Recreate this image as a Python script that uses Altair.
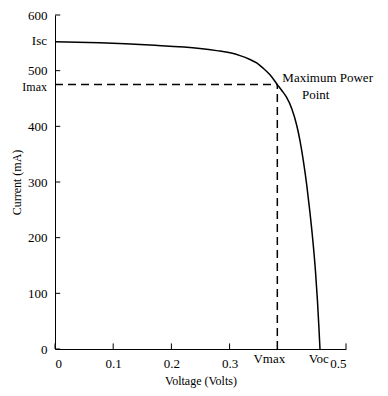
import altair as alt
import pandas as pd

# I-V curve
voltage = [0, 0.077, 0.163, 0.249, 0.278, 0.301, 0.318, 0.335, 0.3465, 0.357, 0.369, 0.382,
           0.390, 0.398, 0.4067, 0.4153, 0.421, 0.4266, 0.4325, 0.438, 0.4433, 0.4476,
           0.451, 0.4533, 0.4553]
current = [552, 550, 546, 540, 536, 532, 527, 520, 514, 505, 493, 475,
           464, 452, 432, 402, 374, 339, 295, 246, 192, 139,
           86, 42, 0]

isc = 552
imax = 475
vmax = 0.382
voc = 0.455

x_ticks = [0, 0.1, 0.2, 0.3, 0.5]
y_ticks = [0, 100, 200, 300, 400, 500, 600]

FONT = "Liberation Serif"

curve_df = pd.DataFrame({"V": voltage, "I": current})

xs = alt.Scale(domain=[0, 0.5], nice=False)
ys = alt.Scale(domain=[0, 600], nice=False)

base_x = alt.X("V:Q", scale=xs,
               axis=alt.Axis(values=x_ticks, format=".1~f", title="Voltage (Volts)",
                             grid=False, ticks=False, labelPadding=8, titlePadding=5,
                             domainColor="black", labelColor="black", titleColor="black",
                             labelFont=FONT, titleFont=FONT, labelFontSize=13, titleFontSize=12,
                             titleFontWeight="normal"))
base_y = alt.Y("I:Q", scale=ys,
               axis=alt.Axis(values=y_ticks, title="Current (mA)",
                             grid=False, ticks=False, labelPadding=8, titlePadding=4,
                             domainColor="black", labelColor="black", titleColor="black",
                             labelFont=FONT, titleFont=FONT, labelFontSize=13, titleFontSize=12,
                             titleFontWeight="normal"))

curve = alt.Chart(curve_df).mark_line(color="black", strokeWidth=1.5, interpolate="monotone").encode(
    x=base_x, y=base_y)

# inward ticks
yt_df = pd.DataFrame({"I": y_ticks, "V": [0] * len(y_ticks), "V2": [0.009] * len(y_ticks)})
ytick = alt.Chart(yt_df).mark_rule(color="black", strokeWidth=1).encode(
    x=alt.X("V:Q", scale=xs), x2="V2:Q", y=alt.Y("I:Q", scale=ys))
xt_df = pd.DataFrame({"V": x_ticks, "I": [0] * len(x_ticks), "I2": [10] * len(x_ticks)})
xtick = alt.Chart(xt_df).mark_rule(color="black", strokeWidth=1).encode(
    x=alt.X("V:Q", scale=xs), y=alt.Y("I:Q", scale=ys), y2="I2:Q")

# dashed lines to max power point
h_df = pd.DataFrame({"V": [0], "V2": [vmax], "I": [imax]})
hdash = alt.Chart(h_df).mark_rule(color="black", strokeWidth=1.5, strokeDash=[8, 5]).encode(
    x=alt.X("V:Q", scale=xs), x2="V2:Q", y=alt.Y("I:Q", scale=ys))
v_df = pd.DataFrame({"V": [vmax], "I": [0], "I2": [imax]})
vdash = alt.Chart(v_df).mark_rule(color="black", strokeWidth=1.5, strokeDash=[8, 5]).encode(
    x=alt.X("V:Q", scale=xs), y=alt.Y("I:Q", scale=ys), y2="I2:Q")

# y-side labels
ylab1 = alt.Chart(pd.DataFrame({"V": [0], "I": [isc], "t": ["Isc"]})).mark_text(
    align="right", baseline="middle", dx=-8, dy=-1, font=FONT, fontSize=13, color="black").encode(
    x=alt.X("V:Q", scale=xs), y=alt.Y("I:Q", scale=ys), text="t:N")
ylab2 = alt.Chart(pd.DataFrame({"V": [0], "I": [imax], "t": ["Imax"]})).mark_text(
    align="right", baseline="middle", dx=-8, dy=2, font=FONT, fontSize=12, color="black").encode(
    x=alt.X("V:Q", scale=xs), y=alt.Y("I:Q", scale=ys), text="t:N")

# x-side labels
xl_df = pd.DataFrame({"V": [vmax, voc], "I": [0, 0], "t": ["Vmax", "Voc"]})
xlab1 = alt.Chart(xl_df.iloc[[0]]).mark_text(align="center", baseline="top", dy=4, dx=-8, font=FONT,
                                            fontSize=13, color="black").encode(
    x=alt.X("V:Q", scale=xs), y=alt.Y("I:Q", scale=ys), text="t:N")
xlab2 = alt.Chart(xl_df.iloc[[1]]).mark_text(align="center", baseline="top", dy=4, dx=-1, font=FONT,
                                            fontSize=13, color="black").encode(
    x=alt.X("V:Q", scale=xs), y=alt.Y("I:Q", scale=ys), text="t:N")

# annotation
ann_df = pd.DataFrame({"V": [vmax, 0.448], "I": [imax, imax], "t": ["Maximum Power", "Point"]})
ann1 = alt.Chart(ann_df.iloc[[0]]).mark_text(align="left", baseline="middle", dx=5, dy=-7, font=FONT,
                                            fontSize=13, color="black").encode(
    x=alt.X("V:Q", scale=xs), y=alt.Y("I:Q", scale=ys), text="t:N")
ann2 = alt.Chart(ann_df.iloc[[1]]).mark_text(align="center", baseline="middle", dy=10, font=FONT,
                                            fontSize=13, color="black").encode(
    x=alt.X("V:Q", scale=xs), y=alt.Y("I:Q", scale=ys), text="t:N")

chart = alt.layer(curve, ytick, xtick, hdash, vdash, ylab1, ylab2, xlab1, xlab2, ann1, ann2).properties(
    width=291, height=334,
    autosize=alt.AutoSizeParams(type="none"),
    padding={"left": 47, "top": 7, "right": 30, "bottom": 39},
    background="white",
).configure_view(stroke=None)

chart.save("out.html", embed_options={"renderer": "svg", "actions": False})
